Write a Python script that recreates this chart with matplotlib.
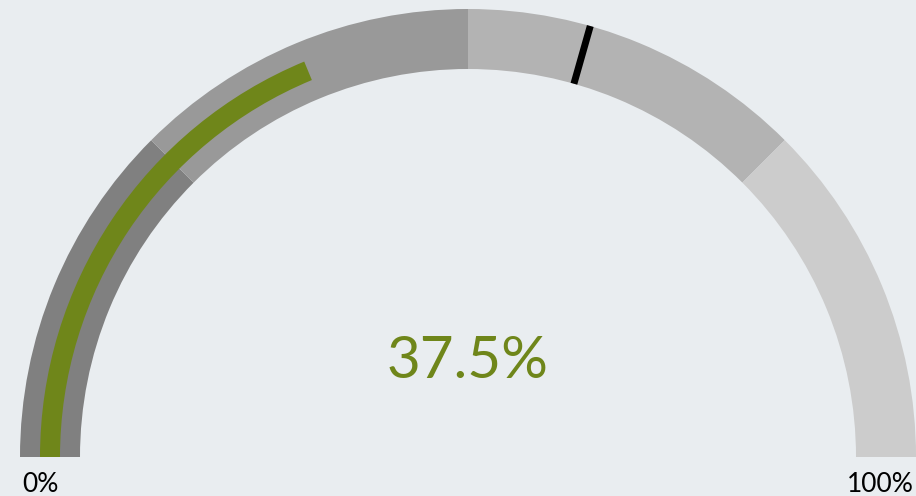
import numpy as np
import matplotlib.pyplot as plt
from matplotlib.patches import Wedge

# gauge data
band_edges = [0.0, 0.25, 0.5, 0.75, 1.0]
band_colors = ["#808080", "#999999", "#b3b3b3", "#cccccc"]
value = 0.375
target = 0.588
min_label = "0%"
max_label = "100%"

bg = "#e9edf0"
green = "#6f861a"

fig = plt.figure(figsize=(9.16, 4.96), dpi=100, facecolor=bg)
ax = fig.add_axes([0, 0, 1, 1])
ax.set_facecolor(bg)
ax.set_xlim(0, 916)
ax.set_ylim(0, 496)
ax.set_aspect("equal")
ax.axis("off")

cx, cy = 468, 39
r_out, band_w = 448, 60


def to_angle(frac):
    return 180 - 180 * frac


# background bands
for lo, hi, c in zip(band_edges[:-1], band_edges[1:], band_colors):
    ax.add_patch(Wedge((cx, cy), r_out, to_angle(hi), to_angle(lo),
                       width=band_w, facecolor=c, edgecolor="none"))

# value bar
ax.add_patch(Wedge((cx, cy), r_out - 20, to_angle(value), 180,
                   width=20, facecolor=green, edgecolor="none"))

# target marker
a = np.radians(to_angle(target))
ax.plot([cx + (r_out - band_w) * np.cos(a), cx + r_out * np.cos(a)],
        [cy + (r_out - band_w) * np.sin(a), cy + r_out * np.sin(a)],
        color="black", lw=5, solid_capstyle="butt")

font = ["Lato", "DejaVu Sans"]
ax.text(cx, 118, "{:.1f}%".format(value * 100), color=green, fontsize=42,
        ha="center", va="baseline", family=font)
ax.text(40, 4, min_label, fontsize=19, ha="center", va="baseline",
        family=font, color="black")
ax.text(880, 4, max_label, fontsize=19, ha="center", va="baseline",
        family=font, color="black")

fig.savefig("out.png", dpi=100, facecolor=bg)
